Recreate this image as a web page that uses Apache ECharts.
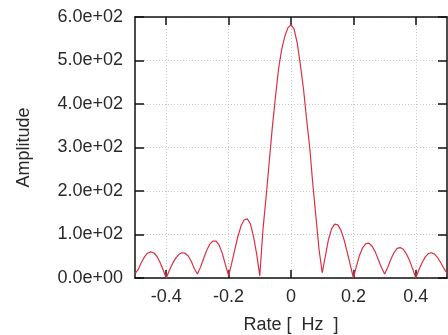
<!DOCTYPE html>
<html>
<head>
<meta charset="utf-8">
<script src="https://cdn.jsdelivr.net/npm/echarts@6.0.0/dist/echarts.min.js"></script>
<style>
  html, body { margin: 0; padding: 0; background: #fff; }
  #chart { width: 448px; height: 335px; }
</style>
</head>
<body>
<div id="chart"></div>
<script>
// frequency samples (Hz)
const freq = [
  -0.50, -0.49, -0.48, -0.47, -0.46, -0.45, -0.44, -0.43, -0.42, -0.41,
  -0.40, -0.39, -0.38, -0.37, -0.36, -0.35, -0.34, -0.33, -0.32, -0.31,
  -0.30, -0.29, -0.28, -0.27, -0.26, -0.25, -0.24, -0.23, -0.22, -0.21,
  -0.20, -0.19, -0.18, -0.17, -0.16, -0.15, -0.14, -0.13, -0.12, -0.11,
  -0.10, -0.09, -0.08, -0.07, -0.06, -0.05, -0.04, -0.03, -0.02, -0.01,
  0.00,
  0.01, 0.02, 0.03, 0.04, 0.05, 0.06, 0.07, 0.08, 0.09, 0.10,
  0.11, 0.12, 0.13, 0.14, 0.15, 0.16, 0.17, 0.18, 0.19, 0.20,
  0.21, 0.22, 0.23, 0.24, 0.25, 0.26, 0.27, 0.28, 0.29, 0.30,
  0.31, 0.32, 0.33, 0.34, 0.35, 0.36, 0.37, 0.38, 0.39, 0.40,
  0.41, 0.42, 0.43, 0.44, 0.45, 0.46, 0.47, 0.48, 0.49, 0.50
];
// amplitude
const amplitude = [
  10, 19, 35, 48, 57, 60, 58, 50, 36, 19,
  0, 17, 33, 45, 54, 58, 57, 51, 39, 22,
  9, 25, 45, 64, 78, 85, 85, 75, 56, 30,
  5, 34, 66, 96, 120, 134, 136, 124, 95, 55,
  5, 110, 185, 265, 345, 415, 480, 525, 555, 575,
  582,
  572, 540, 490, 435, 365, 300, 215, 140, 65, 12,
  50, 88, 113, 124, 122, 110, 88, 60, 30, 0,
  28, 53, 70, 79, 80, 73, 60, 42, 24, 9,
  24, 43, 58, 68, 70, 66, 55, 40, 21, 0,
  19, 35, 48, 56, 58, 55, 47, 35, 22, 11
];
const xTicks = [-0.4, -0.2, 0, 0.2, 0.4];
const xTickLabels = ['-0.4', '-0.2', '0', '0.2', '0.4'];
const yTickLabels = ['0.0e+00', '1.0e+02', '2.0e+02', '3.0e+02', '4.0e+02', '5.0e+02', '6.0e+02'];

const font = 'Liberation Sans';
const textColor = '#2a2a2a';
const axisColor = '#111';

const chart = echarts.init(document.getElementById('chart'), null, { renderer: 'canvas' });

const xLabel = (v) => {
  const i = xTicks.findIndex(t => Math.abs(t - v) < 1e-6);
  return i >= 0 ? xTickLabels[i] : '';
};
const yLabel = (v) => yTickLabels[Math.round(v / 100)] || '';

const option = {
  animation: false,
  backgroundColor: '#fff',
  grid: { left: 135, right: 1, top: 17, bottom: 57, outerBoundsMode: 'none' },
  xAxis: [
    {
      type: 'value',
      min: -0.5,
      max: 0.5,
      position: 'bottom',
      name: 'Rate [  Hz  ]',
      nameLocation: 'middle',
      nameGap: 38,
      nameTextStyle: { fontFamily: font, fontSize: 18, color: textColor },
      axisLine: { show: true, onZero: false, lineStyle: { color: axisColor, width: 1.5 } },
      axisTick: { show: true, inside: true, length: 8, customValues: xTicks, lineStyle: { color: axisColor, width: 1.5 } },
      axisLabel: { customValues: xTicks, formatter: xLabel, margin: 10, fontFamily: font, fontSize: 18, color: textColor },
      splitLine: { show: true, lineStyle: { color: '#c8c8c8', type: [1, 2], width: 1 } }
    },
    {
      type: 'value',
      min: -0.5,
      max: 0.5,
      position: 'top',
      axisLine: { show: true, onZero: false, lineStyle: { color: axisColor, width: 1.5 } },
      axisTick: { show: true, inside: true, length: 8, customValues: xTicks, lineStyle: { color: axisColor, width: 1.5 } },
      axisLabel: { show: false },
      splitLine: { show: false }
    }
  ],
  yAxis: [
    {
      type: 'value',
      min: 0,
      max: 600,
      interval: 100,
      position: 'left',
      name: 'Amplitude',
      nameLocation: 'middle',
      nameGap: 102,
      nameTextStyle: { fontFamily: font, fontSize: 18, color: textColor },
      axisLine: { show: true, onZero: false, lineStyle: { color: axisColor, width: 1.5 } },
      axisTick: { show: true, inside: true, length: 9, lineStyle: { color: axisColor, width: 1.5 } },
      axisLabel: { formatter: yLabel, margin: 12, fontFamily: font, fontSize: 18, color: textColor },
      splitLine: { show: true, lineStyle: { color: '#c8c8c8', type: [1, 2], width: 1 } }
    },
    {
      type: 'value',
      min: 0,
      max: 600,
      interval: 100,
      position: 'right',
      axisLine: { show: true, onZero: false, lineStyle: { color: axisColor, width: 1.5 } },
      axisTick: { show: true, inside: true, length: 9, lineStyle: { color: axisColor, width: 1.5 } },
      axisLabel: { show: false },
      splitLine: { show: false }
    }
  ],
  series: [
    {
      type: 'line',
      xAxisIndex: 0,
      yAxisIndex: 0,
      data: freq.map((f, i) => [f, amplitude[i]]),
      showSymbol: false,
      lineStyle: { color: '#dc2f45', width: 1.2 },
      z: 3
    }
  ]
};

chart.setOption(option);
</script>
</body>
</html>
